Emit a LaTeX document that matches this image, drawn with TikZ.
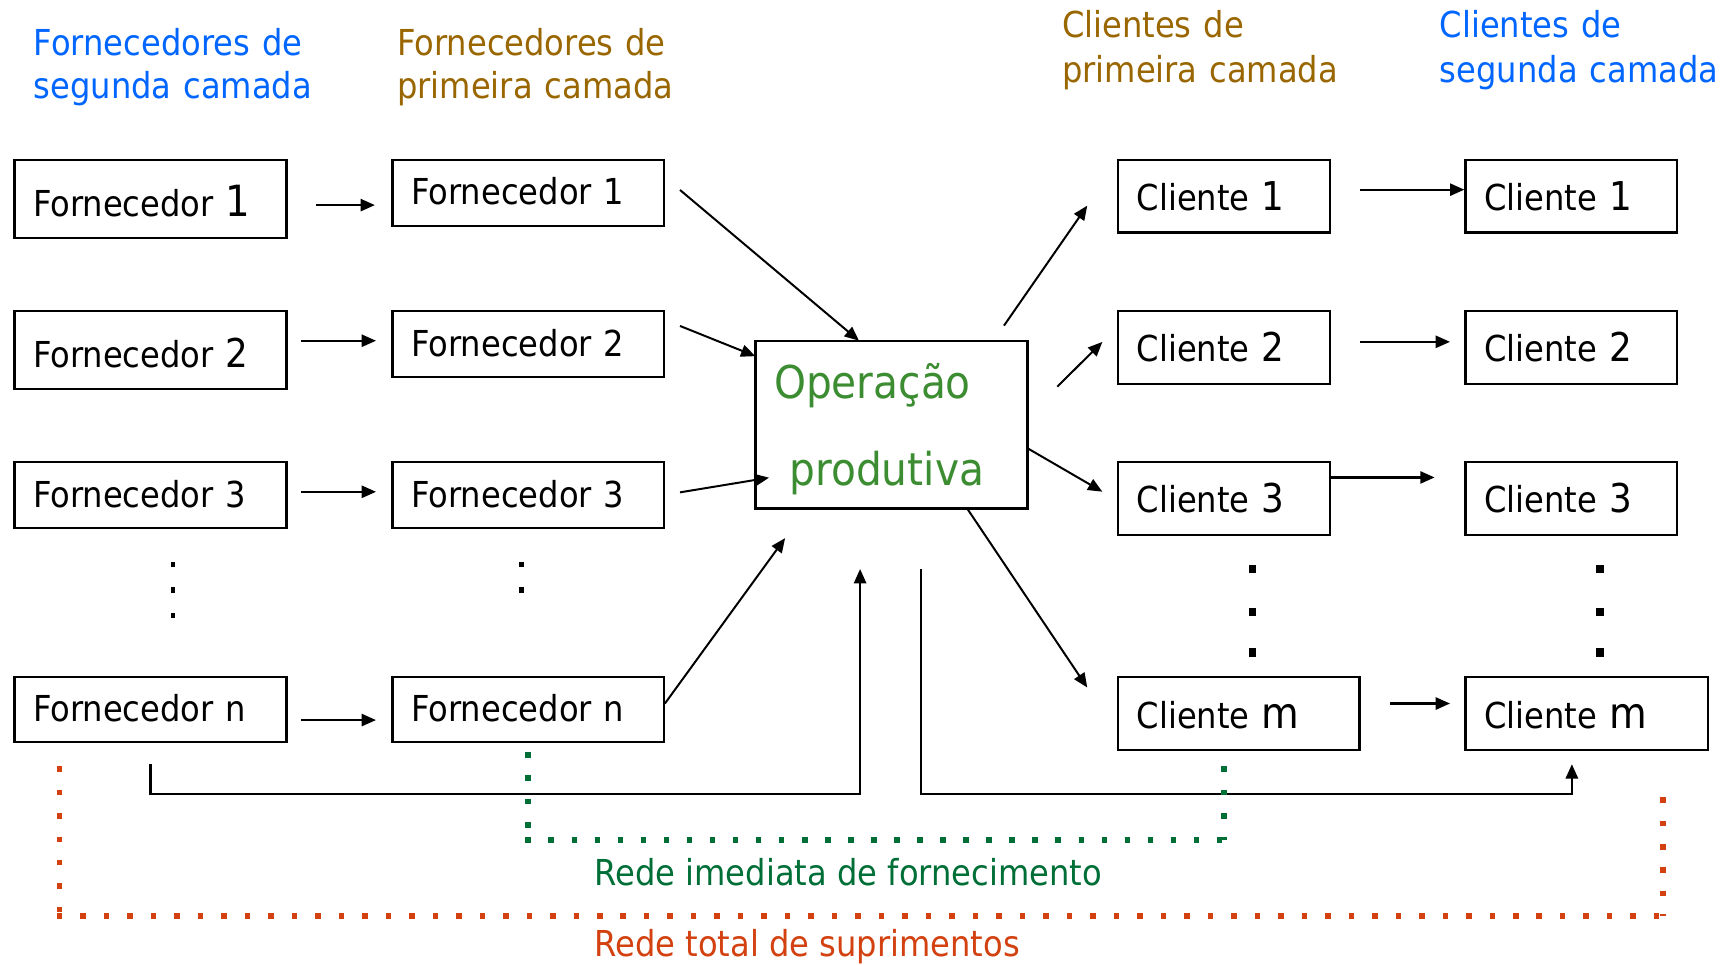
\documentclass[tikz,border=0pt]{standalone}
\usepackage{fontspec}
\setmainfont{DejaVu Sans}[FakeStretch=0.9]
\usetikzlibrary{arrows.meta,calc}
\definecolor{hblue}{RGB}{0,102,255}
\definecolor{hbrown}{RGB}{153,102,0}
\definecolor{opgreen}{RGB}{60,140,50}
\definecolor{netgreen}{RGB}{0,110,55}
\definecolor{netred}{RGB}{210,65,15}
\newcommand{\fsz}[1]{\fontsize{#1}{36}\selectfont}
\begin{document}
\begin{tikzpicture}[x=1pt,y=-1pt,
  box/.style={draw, line width=2.2pt, rectangle, anchor=north west,
    inner xsep=17pt, inner ysep=0pt, outer sep=0pt, align=left,
    text depth=0pt, font=\fontsize{32.4}{38}\selectfont},
  head/.style={anchor=base west, inner sep=0pt, text width=330pt, align=left,
    font=\fontsize{32.4}{39}\selectfont},
  chead/.style={head, font=\fontsize{32.4}{40.5}\selectfont},
  arr/.style={line width=2pt, -{Triangle[length=13pt,width=11pt]}},
  darr/.style={line width=1.8pt, -{Triangle[length=13pt,width=11pt]}},
  fb/.style={line width=2.2pt},
  dotline/.style={line width=5pt, dash pattern=on 5pt off 16.2pt}
]
\useasboundingbox (0,0) rectangle (1568,875);

% headers
\node[head, text=hblue] (h1) at (30.4,50) {Fornecedores de\\segunda camada};
\node[head, text=hbrown] (h2) at (360,50) {Fornecedores de\\primeira camada};
\node[chead, text=hbrown] (h3) at (963,34) {Clientes de\\primeira camada};
\node[chead, text=hblue] (h4) at (1305.6,34) {Clientes de\\segunda camada};

% second-tier suppliers
\node[box, minimum width=247pt, minimum height=71pt, text width=213pt, text height=31pt] (s1) at (13,145) {Fornecedor {\fsz{39}1}};
\node[box, minimum width=247pt, minimum height=71pt, text width=213pt, text height=31pt] (s2) at (13,282) {Fornecedor {\fsz{36}2}};
\node[box, minimum width=247pt, minimum height=60pt, text width=213pt, text height=22pt] (s3) at (13,419) {Fornecedor 3};
\node[box, minimum width=247pt, minimum height=59pt, text width=213pt, text height=22pt] (sn) at (13,614) {Fornecedor n};

% first-tier suppliers
\node[box, minimum width=246pt, minimum height=60pt, text width=212pt, text height=21pt] (p1) at (356,145) {Fornecedor 1};
\node[box, minimum width=246pt, minimum height=60pt, text width=212pt, text height=22pt] (p2) at (356,282) {Fornecedor 2};
\node[box, minimum width=246pt, minimum height=60pt, text width=212pt, text height=22pt] (p3) at (356,419) {Fornecedor 3};
\node[box, minimum width=246pt, minimum height=59pt, text width=212pt, text height=22pt] (pn) at (356,614) {Fornecedor n};

% operation
\node[box, minimum width=247pt, minimum height=152pt, text width=213pt, text height=31pt, text depth=79pt,
  font=\fontsize{41}{79}\selectfont, text=opgreen] (op) at (685,309) {Operação\\\hspace*{14pt}produtiva};

% first-tier customers
\node[box, minimum width=192pt, minimum height=66pt, text width=158pt, text height=26pt] (c1) at (1014,145) {Cliente {\fsz{36}1}};
\node[box, minimum width=192pt, minimum height=66pt, text width=158pt, text height=26pt] (c2) at (1014,282) {Cliente {\fsz{36}2}};
\node[box, minimum width=192pt, minimum height=66pt, text width=158pt, text height=26pt] (c3) at (1014,419) {Cliente {\fsz{36}3}};
\node[box, minimum width=219pt, minimum height=66pt, text width=185pt, text height=27pt] (cm) at (1014,614) {Cliente {\fsz{39}m}};

% second-tier customers
\node[box, minimum width=192pt, minimum height=66pt, text width=158pt, text height=26pt] (d1) at (1329,145) {Cliente {\fsz{36}1}};
\node[box, minimum width=192pt, minimum height=66pt, text width=158pt, text height=26pt] (d2) at (1329,282) {Cliente {\fsz{36}2}};
\node[box, minimum width=192pt, minimum height=66pt, text width=158pt, text height=26pt] (d3) at (1329,419) {Cliente {\fsz{36}3}};
\node[box, minimum width=220pt, minimum height=66pt, text width=186pt, text height=27pt] (dm) at (1329,614) {Cliente {\fsz{39}m}};

% supplier tier arrows
\draw[arr] ($(s1.north east)+(26.6,41)$) -- ($(p1.north west)+(-16,41)$);
\draw[arr] ($(s2.north east)+(13,27)$) -- ($(p2.north west)+(-15,27)$);
\draw[arr] ($(s3.north east)+(13,27)$) -- ($(p3.north west)+(-15,27)$);
\draw[arr] ($(sn.north east)+(13,39)$) -- ($(pn.north west)+(-15,39)$);

% into operation
\draw[darr] ($(p1.north east)+(14.7,27.3)$) -- ($(op.north west)+(94,0)$);
\draw[darr] ($(p2.north east)+(14.7,13.6)$) -- ($(op.north west)+(0,14)$);
\draw[darr] ($(p3.north east)+(14.7,27.5)$) -- ($(op.north west)+(12.4,124.2)$);
\draw[darr] ($(pn.north east)+(1,24)$) -- ($(op.south west)+(27,27)$);

% out of operation
\draw[darr] ($(op.north west)+(225.5,-13.7)$) -- ($(c1.north west)+(-28,41.5)$);
\draw[darr] ($(op.north east)+(26.8,41.7)$) -- ($(c2.north west)+(-14.3,28.1)$);
\draw[darr] ($(op.north east)+(0,97.6)$) -- ($(c3.north west)+(-14.3,26.9)$);
\draw[darr] ($(op.south west)+(192,0)$) -- ($(cm.north west)+(-28,9.5)$);

% customer tier arrows
\draw[arr] ($(c1.north east)+(27,27)$) -- ($(d1.north west)+(-1,27)$);
\draw[arr] ($(c2.north east)+(27,28)$) -- ($(d2.north west)+(-14,28)$);
\draw[arr] ($(c3.north east)+(0,14)$) -- ($(d3.north west)+(-28,14)$);
\draw[arr] ($(cm.north east)+(28,24)$) -- ($(dm.north west)+(-14,24)$);

% feedback lines
\draw[fb, -{Triangle[length=13pt,width=11pt]}] ($(sn.south)+(0,20)$) |- ($(op.south)+(-28.5,259)$) -- ($(op.south)+(-28.5,55)$);
\draw[fb, -{Triangle[length=13pt,width=11pt]}] ($(op.south)+(26.5,55)$) |- ($(dm.south)+(-13.5,40)$) -- ($(dm.south)+(-13.5,13)$);

% vertical ellipsis dots
\fill (155,509.5) rectangle (159,514.5);
\fill (155,532.5) rectangle (159,537.5);
\fill (155,555.5) rectangle (159,560.5);
\fill (471,509.5) rectangle (475,514.5);
\fill (471,532.5) rectangle (475,537.5);
\fill (1132.3,512) rectangle (1138.7,520);
\fill (1132.3,551) rectangle (1138.7,559);
\fill (1132.3,588) rectangle (1138.7,596);
\fill (1447.8,512) rectangle (1454.2,520);
\fill (1447.8,551) rectangle (1454.2,559);
\fill (1447.8,588) rectangle (1454.2,596);

% network frames
\coordinate (g1) at (479,682);
\coordinate (g2) at (1110,695);
\coordinate (g3) at (479,762);
\coordinate (g4) at (1110,762);
\draw[dotline, netgreen] (g1) -- (g3);
\draw[dotline, netgreen, dash pattern=on 5pt off 15.9pt] ($(g3)+(-2.5,0)$) -- ($(g4)+(2.5,0)$);
\draw[dotline, netgreen] (g2) -- (g4);
\coordinate (r1) at (54,695);
\coordinate (r2) at (1508,723);
\coordinate (r3) at (54,830.7);
\coordinate (r4) at (1508,830.7);
\draw[dotline, netred] (r1) -- (r3);
\draw[dotline, netred, dash pattern=on 5pt off 16.3pt] ($(r3)+(-2.5,0)$) -- ($(r4)+(2.5,0)$);
\draw[dotline, netred] (r2) -- (r4);

\node[anchor=base west, inner sep=0pt, text=netgreen, font=\fontsize{32.4}{38}\selectfont] (lg) at (539,802.6) {Rede imediata de fornecimento};
\node[anchor=base west, inner sep=0pt, text=netred, font=\fontsize{32.4}{38}\selectfont] (lr) at (539,867.6) {Rede total de suprimentos};
\end{tikzpicture}
\end{document}
